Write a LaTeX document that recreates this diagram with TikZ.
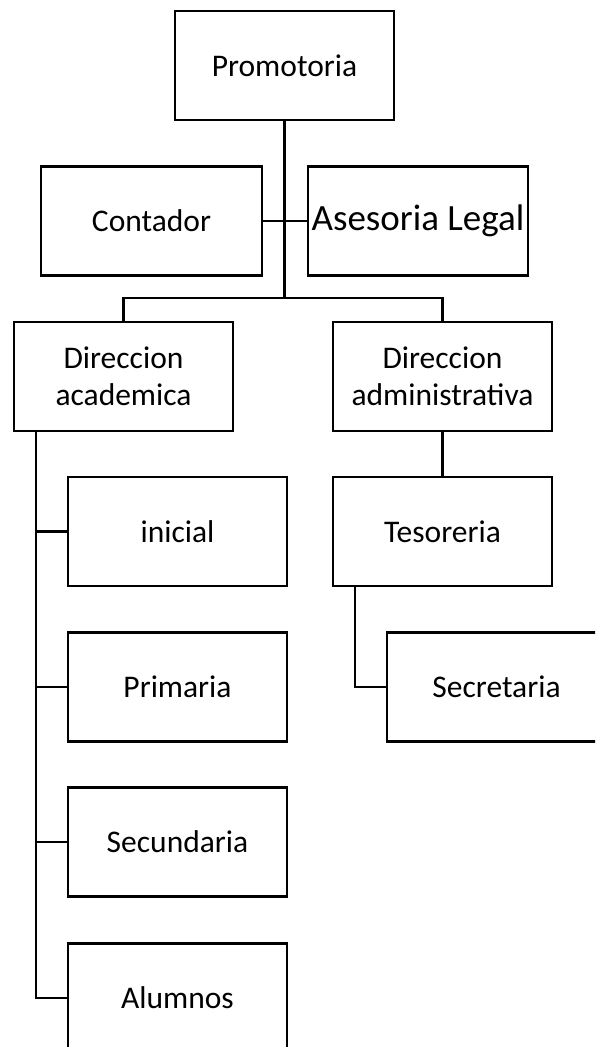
\documentclass[tikz,border=0pt]{standalone}
\usepackage{fontspec}
\setmainfont{Carlito}
\begin{document}
\begin{tikzpicture}[x=1pt,y=-1pt,
  orgbox/.style={draw=black,line width=2.4pt,fill=white,minimum width=219pt,minimum height=109pt,inner sep=0pt,align=center,font=\fontsize{31.5}{37}\selectfont},
  conn/.style={draw=black,line width=2.4pt}]
\useasboundingbox (0,0) rectangle (595,1047);
\clip (0,0) rectangle (595,1047);
\fill[white] (0,0) rectangle (595,1047);
% nodes
\node[orgbox] (prom) at (284.5,65.5) {Promotoria};
\node[orgbox,minimum width=221pt] (cont) at (151.5,221) {Contador};
\node[orgbox,minimum width=220pt,font=\fontsize{37}{42}\selectfont] (ases) at (418,221) {Asesoria Legal};
\node[orgbox] (dacad) at (123.5,376.5) {Direccion\\academica};
\node[orgbox] (dadm) at (442.5,376.5) {Direccion\\administrativa};
\node[orgbox] (tes) at (442.5,531.5) {Tesoreria};
\node[orgbox] (secr) at (496.5,687) {Secretaria};
\node[orgbox] (ini) at (177.5,531.5) {inicial};
\node[orgbox] (pri) at (177.5,687) {Primaria};
\node[orgbox] (secu) at (177.5,842) {Secundaria};
\node[orgbox] (alu) at (177.5,998) {Alumnos};
% junctions
\coordinate (bar) at (284.5,298);
\coordinate (lt) at (36,431);
\coordinate (st) at (355,586);
% connectors
\draw[conn] (prom.south) -- (bar);
\draw[conn] (cont.east) -- (ases.west);
\draw[conn] (dacad.north) |- (bar) -| (dadm.north);
\draw[conn] (dadm.south) -- (tes.north);
\draw[conn] (st) |- (secr.west);
\draw[conn] (lt) |- (alu.west);
\draw[conn] (lt |- ini.west) -- (ini.west);
\draw[conn] (lt |- pri.west) -- (pri.west);
\draw[conn] (lt |- secu.west) -- (secu.west);
\end{tikzpicture}
\end{document}
